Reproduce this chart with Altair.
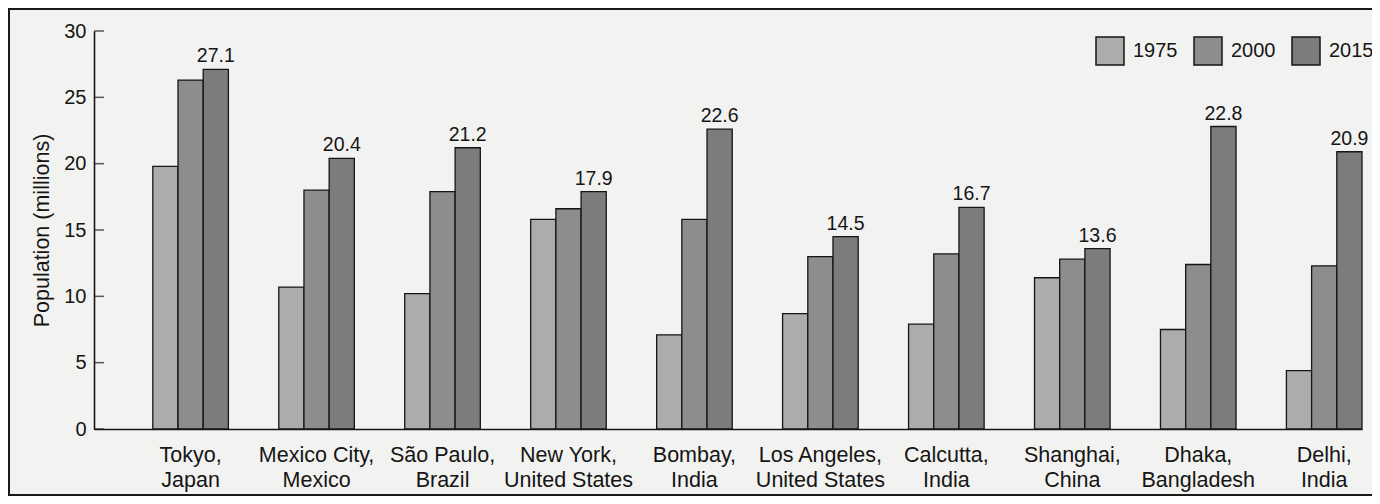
import altair as alt
import pandas as pd

cities = ["Tokyo,", "Mexico City,", "São Paulo,", "New York,", "Bombay,",
          "Los Angeles,", "Calcutta,", "Shanghai,", "Dhaka,", "Delhi,"]
countries = ["Japan", "Mexico", "Brazil", "United States", "India",
             "United States", "India", "China", "Bangladesh", "India"]
years = ["1975", "2000", "2015"]
pop_1975 = [19.8, 10.7, 10.2, 15.8, 7.1, 8.7, 7.9, 11.4, 7.5, 4.4]
pop_2000 = [26.3, 18.0, 17.9, 16.6, 15.8, 13.0, 13.2, 12.8, 12.4, 12.3]
pop_2015 = [27.1, 20.4, 21.2, 17.9, 22.6, 14.5, 16.7, 13.6, 22.8, 20.9]
y_ticks = [0, 5, 10, 15, 20, 25, 30]
bar_colors = ["#acacac", "#8d8d8d", "#7c7c7c"]

FONT = "Liberation Sans"
INK = "#151515"

labels = [f"{c}|{k}" for c, k in zip(cities, countries)]
rows = []
for lab, a, b, c in zip(labels, pop_1975, pop_2000, pop_2015):
    for yr, v in zip(years, (a, b, c)):
        rows.append({"city": lab, "year": yr, "pop": v})
df = pd.DataFrame(rows)

x_enc = alt.X(
    "city:N", sort=labels,
    scale=alt.Scale(paddingInner=0.4, paddingOuter=0.2335, align=1),
    axis=alt.Axis(title=None, ticks=False, labelAngle=0, labelPadding=15,
                  labelFontSize=21.5, labelLineHeight=25, labelColor=INK,
                  labelFont=FONT, domainColor=INK, domainWidth=1.6,
                  labelExpr="split(datum.label, '|')"))
xo_enc = alt.XOffset("year:N", sort=years)
y_enc = alt.Y(
    "pop:Q", scale=alt.Scale(domain=[0, 30], nice=False, zero=True),
    axis=alt.Axis(values=y_ticks, ticks=False, grid=False, labelPadding=8,
                  labelFontSize=20, labelColor=INK, labelFont=FONT,
                  domainColor=INK, domainWidth=1.6,
                  title="Population (millions)", titleFontSize=21.5,
                  titleFontWeight="normal", titleFont=FONT, titleColor=INK,
                  titlePadding=10))

bars = alt.Chart(df).mark_bar(stroke=INK, strokeWidth=1.3).encode(
    x=x_enc, xOffset=xo_enc, y=y_enc,
    color=alt.Color("year:N", scale=alt.Scale(domain=years, range=bar_colors),
                    legend=alt.Legend(orient="none", legendX=1001, legendY=5,
                                      direction="horizontal", title=None,
                                      symbolType="square", symbolSize=784,
                                      symbolStrokeColor=INK, symbolStrokeWidth=1.5,
                                      symbolOpacity=1,
                                      labelFontSize=20, labelFont=FONT,
                                      labelColor=INK, labelOffset=8,
                                      columnPadding=13, padding=0)))

values = alt.Chart(df[df["year"] == "2015"]).mark_text(
    fontSize=19.5, font=FONT, color=INK, baseline="alphabetic", dy=-7
).encode(x=x_enc, xOffset=xo_enc, y=y_enc,
         text=alt.Text("pop:Q", format=".1f"))

tick_df = pd.DataFrame({"pop": y_ticks})
ticks = alt.Chart(tick_df).mark_tick(color=INK, thickness=1.5, size=10).encode(
    y=alt.Y("pop:Q"), x=alt.value(5))

frame = alt.Chart(pd.DataFrame({"pop": [0]})).mark_rect(
    fill="transparent", stroke="#1a1a1a", strokeWidth=2
).encode(x=alt.value(-85), x2=alt.value(1300), y=alt.value(-22), y2=alt.value(464))

chart = alt.layer(frame, bars, values, ticks).properties(
    width=1268, height=398,
    autosize=alt.AutoSizeParams(type="none"),
    padding={"left": 86, "top": 23, "right": 10, "bottom": 67},
    background="#f2f2f0",
).configure_view(stroke=None)

chart.save("out.html", embed_options={"renderer": "svg", "actions": False})
